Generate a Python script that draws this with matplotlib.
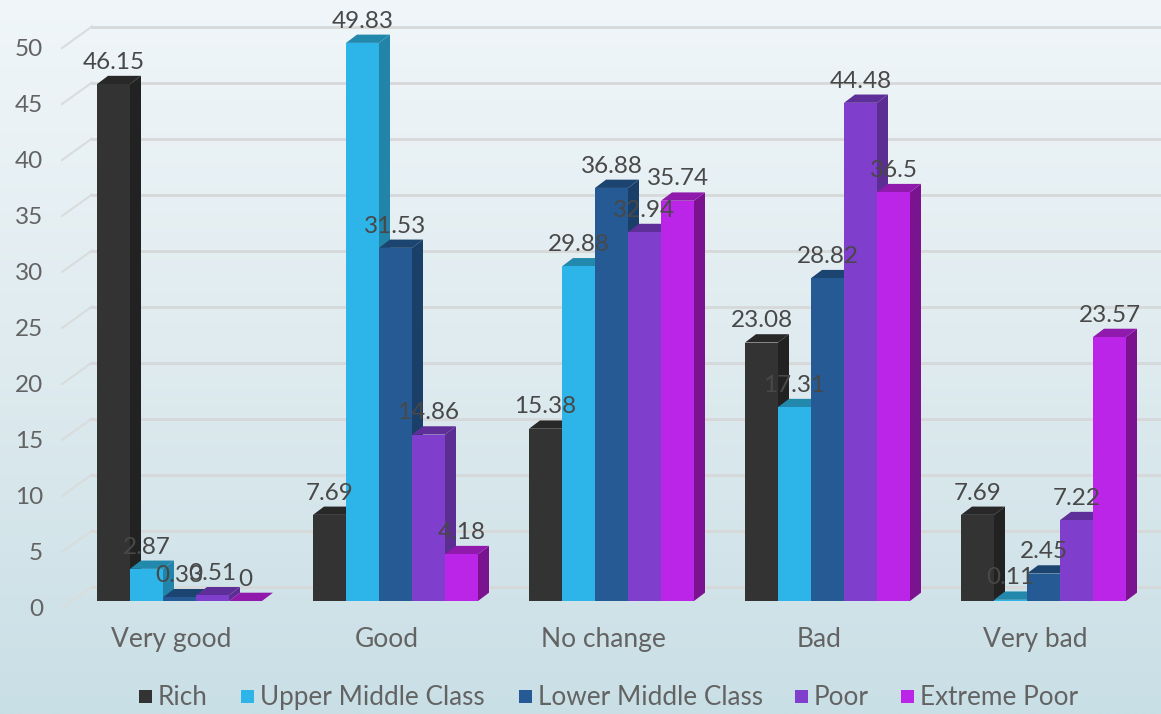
import numpy as np
import matplotlib
matplotlib.use("Agg")
import matplotlib.pyplot as plt
from matplotlib.colors import LinearSegmentedColormap
from matplotlib.patches import Rectangle

categories = ["Very good", "Good", "No change", "Bad", "Very bad"]
series_names = ["Rich", "Upper Middle Class", "Lower Middle Class", "Poor", "Extreme Poor"]
rich = [46.15, 7.69, 15.38, 23.08, 7.69]
upper_middle = [2.87, 49.83, 29.88, 17.31, 0.11]
lower_middle = [0.33, 31.53, 36.88, 28.82, 2.45]
poor = [0.51, 14.86, 32.94, 44.48, 7.22]
extreme_poor = [0, 4.18, 35.74, 36.5, 23.57]
yticks = list(range(0, 55, 5))

front_colors = ["#333333", "#2db4e8", "#255a94", "#7f3fcc", "#bb25e8"]
side_colors = ["#222222", "#2284a8", "#1a3f68", "#5c2e93", "#7b1390"]
top_colors = ["#282828", "#2389ac", "#1c4470", "#5f2f99", "#8f1aab"]

W, H = 1161, 714
PX_PER_CAT = 216.0
PX_PER_UNIT = 11.2
FONT = "Lato"
TICK_COLOR = "#636363"
LABEL_COLOR = "#484848"

fig = plt.figure(figsize=(W / 100, H / 100), dpi=100)

# background gradient
bg = fig.add_axes([0, 0, 1, 1], zorder=0)
cmap = LinearSegmentedColormap.from_list("bg", ["#f0f6f9", "#dfebef", "#c9dfe6"])
bg.imshow(np.linspace(0, 1, 256).reshape(-1, 1), aspect="auto", cmap=cmap)
bg.axis("off")

ax = fig.add_axes([0, 0, 1, 1], zorder=1)
ax.set_xlim(-171 / PX_PER_CAT, (W - 171) / PX_PER_CAT)
ax.set_ylim(-(H - 601) / PX_PER_UNIT, 601 / PX_PER_UNIT)
ax.patch.set_alpha(0)
ax.axis("off")

bar_w = 33 / PX_PER_CAT
start = -74 / PX_PER_CAT
depth_x = 11 / PX_PER_CAT
depth_y = 8.3 / PX_PER_UNIT

# floor and back wall lines
wall_x = -79 / PX_PER_CAT
floor_x = -109 / PX_PER_CAT
for v in yticks:
    back = v + 14.5 / PX_PER_UNIT
    front = v - 7 / PX_PER_UNIT
    ax.plot([floor_x, wall_x], [front, back], color="#d9dcdc", lw=1.5, zorder=1)
    ax.plot([wall_x, ax.get_xlim()[1]], [back, back], color="#d6d8d9", lw=2, zorder=1)
    ax.annotate(str(v), (floor_x, front), xytext=(-19, -2), textcoords="offset pixels",
                ha="right", va="center", fontsize=17.5, color=TICK_COLOR, family=FONT, zorder=20)

# bars, left to right so each one covers the side of the one before
all_series = [rich, upper_middle, lower_middle, poor, extreme_poor]
z = 2
for c in range(len(categories)):
    for s, values in enumerate(all_series):
        v = values[c]
        x0 = c + start + s * bar_w
        x1 = x0 + bar_w
        ax.fill([x1, x1 + depth_x, x1 + depth_x, x1], [0, depth_y, v + depth_y, v],
                color=side_colors[s], lw=0, zorder=z)
        ax.fill([x0, x1, x1 + depth_x, x0 + depth_x], [v, v, v + depth_y, v + depth_y],
                color=top_colors[s], lw=0, zorder=z)
        ax.bar(x0, v, width=bar_w, align="edge", color=front_colors[s], linewidth=0, zorder=z + 0.5)
        z += 1

# data labels
for c in range(len(categories)):
    for s, values in enumerate(all_series):
        v = values[c]
        x = c + start + (s + 0.5) * bar_w
        ax.annotate(f"{v:g}", (x, v + depth_y), xytext=(0, 7), textcoords="offset pixels",
                    ha="center", va="baseline", fontsize=17.5, color=LABEL_COLOR,
                    family=FONT, zorder=30)

# category labels
for c, name in enumerate(categories):
    ax.annotate(name, (c, 0), xytext=(0, -46), textcoords="offset pixels",
                ha="center", va="baseline", fontsize=19, color=TICK_COLOR, family=FONT, zorder=20)

# legend
marker_px = [139, 241, 519, 795, 901]
for name, color, mx in zip(series_names, front_colors, marker_px):
    fig.add_artist(Rectangle((mx / W, 1 - 703 / H), 13 / W, 13 / H, color=color, lw=0,
                             transform=fig.transFigure))
    fig.text((mx + 19) / W, 1 - 705 / H, name, ha="left", va="baseline", fontsize=18.8,
             color=TICK_COLOR, family=FONT)

fig.savefig("out.png", dpi=100)
